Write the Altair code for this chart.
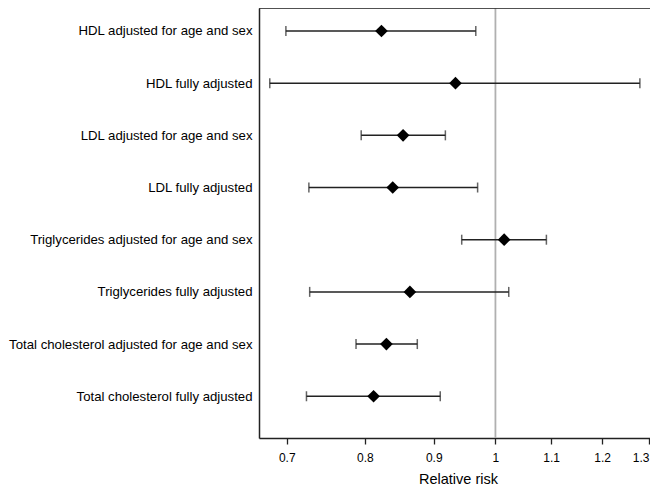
import altair as alt
import pandas as pd

labels = [
    "HDL adjusted for age and sex",
    "HDL fully adjusted",
    "LDL adjusted for age and sex",
    "LDL fully adjusted",
    "Triglycerides adjusted for age and sex",
    "Triglycerides fully adjusted",
    "Total cholesterol adjusted for age and sex",
    "Total cholesterol fully adjusted",
]
rr = [0.823, 0.934, 0.854, 0.839, 1.015, 0.864, 0.830, 0.812]
lower = [0.699, 0.680, 0.795, 0.727, 0.944, 0.728, 0.788, 0.724]
upper = [0.967, 1.280, 0.918, 0.970, 1.091, 1.023, 0.875, 0.910]
x_ticks = [0.7, 0.8, 0.9, 1.0, 1.1, 1.2, 1.3]
reference = [1.0]

df = pd.DataFrame({
    "row": list(range(1, len(labels) + 1)),
    "label": labels,
    "rr": rr,
    "lower": lower,
    "upper": upper,
})
ref_df = pd.DataFrame({"ref": reference})

W, H = 398, 430
FONT = "Liberation Sans"

label_expr = "[" + ",".join("'" + s + "'" for s in labels) + "][datum.value - 1]"

xscale = alt.Scale(type="log", domain=[0.6676, 1.318], nice=False)
yscale = alt.Scale(domain=[0.56, 8.80], reverse=True, nice=False, zero=False)

xaxis = alt.Axis(
    values=x_ticks, format=".1~f", title="Relative risk", grid=False,
    domainColor="#222", domainWidth=1.5, tickColor="#222", tickWidth=1.3,
    tickSize=6, labelFontSize=12, labelFont=FONT, labelColor="black",
    labelPadding=8, titleFont=FONT, titleFontSize=14.5, titleFontWeight="normal",
    titleColor="black", titlePadding=9, labelFlush=10,
)
yaxis = alt.Axis(
    values=list(range(1, len(labels) + 1)), labelExpr=label_expr, title=None,
    grid=False, ticks=False, tickSize=0, domainColor="#222", domainWidth=1.5,
    labelFontSize=13.2, labelFont=FONT, labelColor="black", labelPadding=7,
    labelLimit=400,
)

base = alt.Chart(df)

bars = base.mark_rule(color="#222", strokeWidth=1.5).encode(
    x=alt.X("lower:Q", scale=xscale, axis=xaxis),
    x2="upper:Q",
    y=alt.Y("row:Q", scale=yscale, axis=yaxis),
)
cap_lo = base.mark_tick(color="#222", orient="vertical", size=10, thickness=1.5).encode(
    x=alt.X("lower:Q", scale=xscale, axis=xaxis),
    y=alt.Y("row:Q", scale=yscale, axis=yaxis),
)
cap_hi = base.mark_tick(color="#222", orient="vertical", size=10, thickness=1.5).encode(
    x=alt.X("upper:Q", scale=xscale, axis=xaxis),
    y=alt.Y("row:Q", scale=yscale, axis=yaxis),
)
ref = alt.Chart(ref_df).mark_rule(color="#b0b0b0", strokeWidth=1.8).encode(
    x=alt.X("ref:Q", scale=xscale, axis=xaxis),
)
pts = base.mark_point(shape="diamond", filled=True, color="black", opacity=1, size=160).encode(
    x=alt.X("rr:Q", scale=xscale, axis=xaxis),
    y=alt.Y("row:Q", scale=yscale, axis=yaxis),
)
top = alt.Chart(ref_df).mark_rule(color="#222", strokeWidth=1.5).encode(
    x=alt.value(0), x2=alt.value(W), y=alt.value(0)
)

chart = alt.layer(ref, bars, cap_lo, cap_hi, pts, top).properties(
    width=W, height=H,
    autosize=alt.AutoSizeParams(type="none"),
    padding={"left": 251, "top": 0, "right": -7, "bottom": 52},
).configure_view(stroke=None).configure(background="white")

chart.save("out.html", embed_options={"renderer": "svg", "actions": False})
